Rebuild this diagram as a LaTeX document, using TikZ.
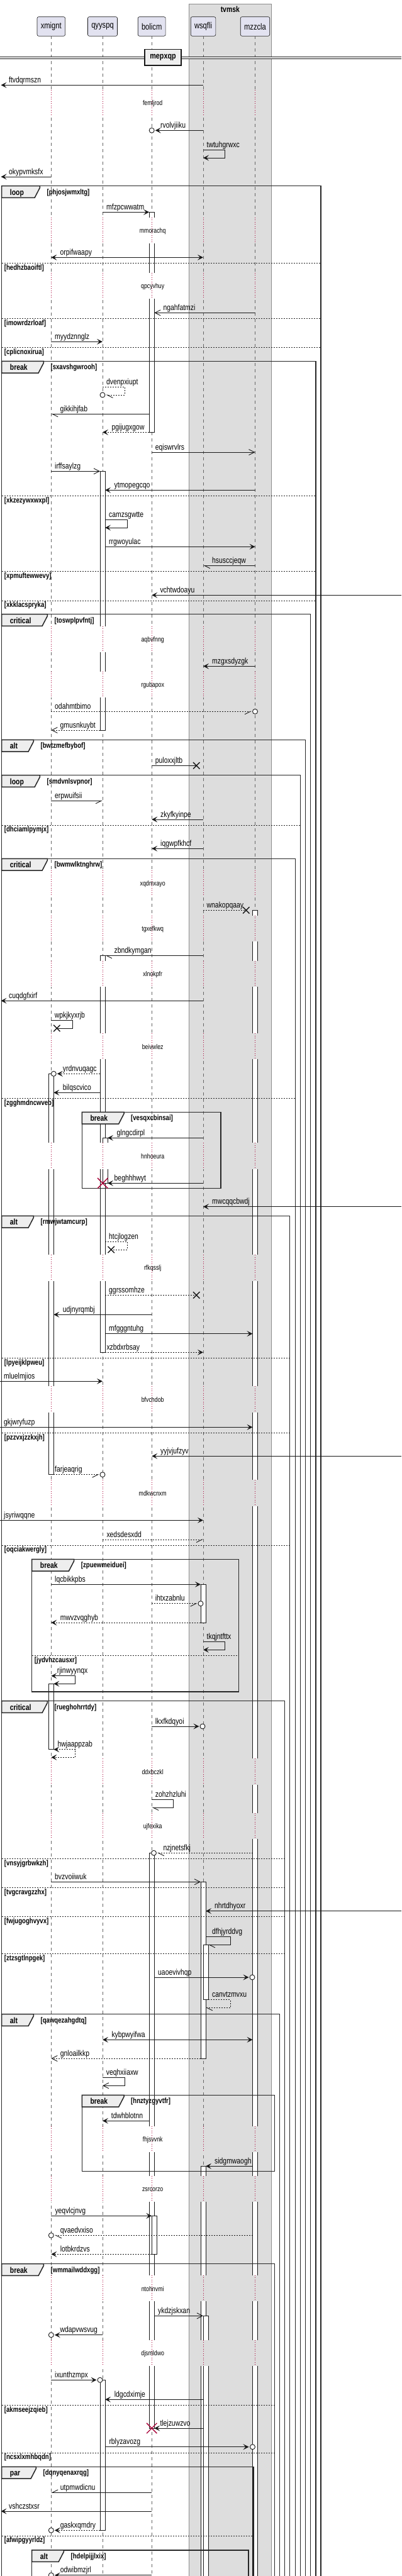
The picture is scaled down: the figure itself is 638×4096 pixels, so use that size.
\documentclass[tikz,border=0pt]{standalone}
\usepackage{fontspec}
\setmainfont{Liberation Sans}[FakeStretch=0.8]
\usetikzlibrary{arrows.meta, shapes.misc}
\definecolor{ink}{HTML}{181818}
\definecolor{partfill}{HTML}{E2E2F0}
\definecolor{boxgray}{HTML}{DDDDDD}
\definecolor{tabfill}{HTML}{EEEEEE}
\definecolor{delayred}{HTML}{A80036}
% lifeline positions
\newcommand*{\LXm}{81.3}
\newcommand*{\LQy}{163}
\newcommand*{\LBo}{241.2}
\newcommand*{\LWs}{323}
\newcommand*{\LMz}{405.5}
\tikzset{
  part/.style={draw=ink, fill=partfill, rounded corners=2.5pt, line width=0.6pt,
               minimum height=30.6pt, inner xsep=5.8pt, font=\fontsize{14}{16}\selectfont},
  life/.style={draw=black!60, line width=0.6pt, dash pattern=on 5pt off 5pt},
  dly/.style={draw=delayred, line width=0.8pt, dash pattern=on 1pt off 2.5pt},
  dlytxt/.style={font=\fontsize{11}{13}\selectfont, inner sep=0pt},
  frm/.style={draw=black!85, line width=1.5pt},
  sepl/.style={draw=black!85, line width=0.8pt, dash pattern=on 2pt off 2pt},
  kw/.style={font=\bfseries\fontsize{13}{15}\selectfont, anchor=base west, inner sep=0pt},
  cond/.style={font=\bfseries\fontsize{12}{14}\selectfont, anchor=base west, inner sep=0pt},
  act/.style={draw=ink, fill=white, line width=0.8pt},
  msg/.style={draw=ink, line width=0.9pt},
  dmsg/.style={msg, dash pattern=on 2pt off 2pt},
  tipfull/.style={-{Stealth[length=9pt,width=9pt,inset=4pt]}},
  tipboth/.style={{Stealth[length=9pt,width=9pt,inset=4pt]}-{Stealth[length=9pt,width=9pt,inset=4pt]}},
  tipopen/.style={-{Straight Barb[length=9pt,width=9pt]}},
  halfr/.style={-{Straight Barb[length=9pt,width=9pt,right]}},
  halfl/.style={-{Straight Barb[length=9pt,width=9pt,left]}},
  ring/.style={circle, draw=ink, fill=white, line width=0.9pt, minimum size=8pt, inner sep=0pt},
  lost/.style={cross out, draw=ink, line width=1.4pt, minimum size=9pt, inner sep=0pt},
  kill/.style={cross out, draw=delayred, line width=1.4pt, minimum size=15pt, inner sep=0pt},
  lbl/.style={font=\fontsize{13}{15}\selectfont, anchor=base west, inner sep=0pt},
}
% group frame: L, R, top, bottom, keyword, tab width, condition
\newcommand{\seqgroup}[7]{%
  \draw[frm] (#1,#3) rectangle (#2,#4);
  \draw[frm, fill=tabfill] (#1,#3) -- ++(#6,0) -- ++(0,2.7) -- ++(-8.3,16) -- ++({8.3-#6},0) -- cycle;
  \node[kw] (#7-kw) at ({#1+13},{#3+14.5}) {#5};
  \node[cond] (#7) at ({#1+#6+11},{#3+13.5}) {[#7]};
}
% else line: L, R, y, condition
\newcommand{\seqelse}[4]{%
  \draw[sepl] (#1,#3) -- (#2,#3);
  \node[cond] (#4) at ({#1+4},{#3+10.7}) {[#4]};
}
\begin{document}
\begin{tikzpicture}[x=1pt, y=-1pt]
  \useasboundingbox (0,0) rectangle (638,4096);
  % box and participants
  \draw[draw=black!45, fill=boxgray, line width=0.8pt] (300.3,6.3) rectangle (431.3,4120);
  \node[font=\bfseries\fontsize{13}{15}\selectfont, anchor=base, inner sep=0pt] (tvmsk) at (365.8,19.3) {tvmsk};
  \node[part] (xmignt) at (\LXm,42) {xmignt};
  \node[part] (qyyspq) at (\LQy,42) {qyyspq};
  \node[part] (bolicm) at (\LBo,42) {bolicm};
  \node[part] (wsqfli) at (\LWs,42) {wsqfli};
  \node[part] (mzzcla) at (\LMz,42) {mzzcla};
  \foreach \x in {\LXm,\LQy,\LBo,\LWs,\LMz}
    \draw[life] (\x,57.3) -- (\x,4110);
  % divider
  \draw[draw=ink, line width=0.9pt, double=white, double distance=1.8pt] (0,91.7) -- (638,91.7);
  \node[draw=ink, line width=1.5pt, fill=tabfill, minimum width=58pt, minimum height=25.7pt, inner sep=0pt,
        font=\bfseries\fontsize{13.5}{15}\selectfont] (mepxqp) at (259,91.2) {mepxqp};

  % activations
  \draw[act] (77.3,1707.3) rectangle (85.3,2344.7);
  \draw[act] (77.3,2677.3) rectangle (85.3,2781.7);
  \draw[act] (159,749.3) rectangle (167,1161);
  \draw[act] (159,1519.3) rectangle (167,2150.3);
  \draw[act] (163,1809.3) rectangle (171,1881.3);
  \draw[act] (159,3784.3) rectangle (167,4023.3);
  \draw[act] (237.2,337.3) rectangle (245.2,687.3);
  \draw[act] (237.2,2946.3) rectangle (245.2,3861);
  \draw[act] (241.2,3523.3) rectangle (249.2,3584.3);
  \draw[act] (319,2519.3) rectangle (327,2580);
  \draw[act] (319,2992.3) rectangle (327,3273);
  \draw[act] (323,3092.3) rectangle (331,3179.7);
  \draw[act] (319,3444.3) rectangle (327,4110);
  \draw[act] (323,3682.3) rectangle (331,4110);
  \draw[act] (401.5,1447.3) rectangle (409.5,4110);

  % groups
  \seqgroup{2.7}{510}{295.7}{4110}{loop}{60.7}{phjosjwmxltg}
  \seqelse{2.7}{510}{418.3}{hedhzbaoiftl}
  \seqelse{2.7}{510}{506.3}{imowrdzrloaf}
  \seqelse{2.7}{510}{552.3}{cplicnoxirua}
  \seqgroup{2.7}{502}{574.3}{4110}{break}{66.7}{sxavshgwrooh}
  \seqelse{2.7}{502}{788.3}{xkzezywxwxpl}
  \seqelse{2.7}{502}{908.3}{xpmuftewwevy}
  \seqelse{2.7}{502}{955}{xkklacspryka}
  \seqgroup{2.7}{493.7}{976.7}{4110}{critical}{72.7}{toswplpvfntj}
  \seqgroup{2.7}{485.7}{1176.3}{4110}{alt}{50.7}{bwtzmefbybof}
  \seqgroup{2.7}{477.7}{1232.7}{4110}{loop}{60.7}{smdvnlsvpnor}
  \seqelse{2.7}{477.7}{1312}{dhciamlpymjx}
  \seqgroup{2.7}{469.7}{1365.3}{4110}{critical}{72.7}{bwmwlktnghrw}
  \seqelse{2.7}{469.7}{1746.3}{zgghmdncwveb}
  \seqgroup{130.3}{351}{1768.3}{1889.7}{break}{66.7}{vesqxcbinsai}
  \seqgroup{2.7}{460.7}{1933.3}{4110}{alt}{50.7}{rmwjwtamcurp}
  \seqelse{2.7}{460.7}{2159.3}{lpyeijklpweu}
  \seqelse{2.7}{460.7}{2278.3}{pzzvxjzzkxjh}
  \seqelse{2.7}{460.7}{2457}{oqciakwergly}
  \seqgroup{50.7}{379.7}{2479.3}{2690}{break}{67}{zpuewmeiduei}
  \seqelse{50.7}{379.7}{2632.3}{jydvhzcausxr}
  \seqgroup{2.7}{452.7}{2704.7}{4110}{critical}{72.7}{rueghohrrtdy}
  \seqelse{2.7}{452.7}{2955.3}{vnsyjgrbwkzh}
  \seqelse{2.7}{452.7}{3001.3}{tvgcravgzzhx}
  \seqelse{2.7}{452.7}{3047.3}{fwjugoghvyvx}
  \seqelse{2.7}{452.7}{3106.3}{ztzsgtlnpgek}
  \seqgroup{2.7}{444.7}{3202.7}{4110}{alt}{50.7}{qawqezahgdtq}
  \seqgroup{130.3}{436.3}{3331.3}{3452.3}{break}{66.7}{hnztyzgyvtfr}
  \seqgroup{2.7}{436.3}{3599.7}{4110}{break}{66.7}{wmmailwddxgg}
  \seqelse{2.7}{436.3}{3824.3}{akmseejzqieb}
  \seqelse{2.7}{436.3}{3900}{ncsxlxmhbqdn}
  \seqgroup{2.7}{403}{3922.3}{4110}{par}{54.7}{dqnyqenaxrqg}
  \seqelse{2.7}{403}{4032}{afwipgyyrldz}
  \seqgroup{50.7}{395}{4054.7}{4110}{alt}{50.7}{hdelpijjlxix}

  % delays
  \foreach \c/\t in {165/femljrod, 367.3/mmorachq, 455.3/qpcyvhuy, 1017.3/aqbvfnng,
      1089.3/rgubapox, 1405.3/xqdmxayo, 1477.3/tgxefkwq, 1549.3/xlnokpfr, 1664.7/beivwlez,
      1839/hnhoeura, 2017/rfkqsslj, 2226/bfvchdob, 2375/mdkwcnxm, 2818/ddxbczkl,
      2904.3/ujfexika, 3402.3/fhjsvvnk, 3481.3/zsrcorzo, 3639.3/ntohnvmi, 3742.3/djsmldwo} {
    \foreach \x/\bg in {\LXm/white, \LQy/white, \LBo/white, \LWs/boxgray, \LMz/boxgray} {
      \fill[fill=\bg] (\x-5,\c-21.6) rectangle (\x+9.5,\c+19.7);
      \draw[dly] (\x,\c-21.6) -- (\x,\c+19.7);
    }
    \node[dlytxt] (\t) at (242.7,\c) {\t};
  }

  % messages
  \draw[msg, tipfull] (\LWs,135.3) -- (1.5,135.3);
  \node[lbl] (ftvdqrmszn) at (14,131.3) {ftvdqrmszn};
  \draw[msg, tipfull] (\LWs,207.3) -- (246.7,207.3);
  \node[ring] (rvolvjiiku-o) at (\LBo,207.3) {};
  \node[lbl] (rvolvjiiku) at (255,203.3) {rvolvjiiku};
  \draw[msg, tipfull] (\LWs,238.3) -- (357.7,238.3) -- (357.7,251) -- (\LWs,251);
  \node[lbl] (twtuhgrwxc) at (328.5,234.3) {twtuhgrwxc};
  \draw[msg, tipfull] (\LXm,281) -- (1.5,281);
  \node[lbl] (okypvmksfx) at (14,277) {okypvmksfx};
  \draw[msg, tipfull] (\LQy,337.3) -- (237.2,337.3);
  \node[lbl] (mfzpcwwatm) at (169,333.3) {mfzpcwwatm};
  \draw[msg, tipboth] (\LXm,409.3) -- (\LWs,409.3);
  \node[lbl] (orpifwaapy) at (95.5,405.3) {orpifwaapy};
  \draw[msg, tipopen] (\LMz,497.3) -- (245.2,497.3);
  \node[lbl] (ngahfatmzi) at (259.3,493.3) {ngahfatmzi};
  \draw[msg, tipfull] (\LXm,543.3) -- (\LQy,543.3);
  \node[lbl] (myydznnglz) at (87,539.3) {myydznnglz};
  \draw[dmsg, halfl] (\LQy,615.3) -- (198,615.3) -- (198,628) -- (168.5,628);
  \node[ring] (dvenpxiupt-o) at (\LQy,628) {};
  \node[lbl] (dvenpxiupt) at (169,611.3) {dvenpxiupt};
  \draw[msg, halfl] (237.2,658.3) -- (\LXm,658.3);
  \node[lbl] (gikkihjfab) at (95.5,654.3) {gikkihjfab};
  \draw[dmsg, tipfull] (237.2,687.3) -- (\LQy,687.3);
  \node[lbl] (pgijugxgow) at (177.3,683.3) {pgijugxgow};
  \draw[msg, tipopen] (\LBo,719) -- (\LMz,719);
  \node[lbl] (eqiswrvlrs) at (246.7,715) {eqiswrvlrs};
  \draw[msg, tipopen] (\LXm,749.3) -- (159,749.3);
  \node[lbl] (irffsaylzg) at (87,745.3) {irffsaylzg};
  \draw[msg, tipfull] (\LMz,779.3) -- (167,779.3);
  \node[lbl] (ytmopegcqo) at (181.5,775.3) {ytmopegcqo};
  \draw[msg, tipfull] (167,826.3) -- (202,826.3) -- (202,839) -- (167,839);
  \node[lbl] (camzsgwtte) at (173,822.3) {camzsgwtte};
  \draw[msg, tipfull] (167,869.3) -- (\LMz,869.3);
  \node[lbl] (rrgwoyulac) at (173,865.3) {rrgwoyulac};
  \draw[msg, halfl] (\LMz,899.3) -- (\LWs,899.3);
  \node[lbl] (hsusccjeqw) at (337,895.3) {hsusccjeqw};
  \draw[msg, tipfull] (638,946.3) -- (\LBo,946.3);
  \node[lbl] (vchtwdoayu) at (254.3,942.3) {vchtwdoayu};
  \draw[msg, tipfull] (\LMz,1059.3) -- (\LWs,1059.3);
  \node[lbl] (mzgxsdyzgk) at (337,1055.3) {mzgxsdyzgk};
  \draw[dmsg, halfr] (\LXm,1131.3) -- (400,1131.3);
  \node[ring] (odahmtbimo-o) at (\LMz,1131.3) {};
  \node[lbl] (odahmtbimo) at (87,1127.3) {odahmtbimo};
  \draw[dmsg, tipopen] (159,1161) -- (\LXm,1161);
  \node[lbl] (gmusnkuybt) at (95.5,1157) {gmusnkuybt};
  \draw[msg] (\LBo,1217.3) -- (312.3,1217.3);
  \node[lost] (puloxxjltb-x) at (312.3,1217.3) {};
  \node[lbl] (puloxxjltb) at (246.7,1213.3) {puloxxjltb};
  \draw[msg, halfr] (\LXm,1273.3) -- (\LQy,1273.3);
  \node[lbl] (erpwuifsii) at (87,1269.3) {erpwuifsii};
  \draw[msg, tipfull] (\LWs,1303) -- (\LBo,1303);
  \node[lbl] (zkyfkyinpe) at (255,1299) {zkyfkyinpe};
  \draw[msg, tipfull] (\LWs,1349.3) -- (\LBo,1349.3);
  \node[lbl] (iqgwpfkhcf) at (255,1345.3) {iqgwpfkhcf};
  \draw[dmsg] (\LWs,1447.3) -- (391.3,1447.3);
  \node[lost] (wnakopqaay-x) at (391.3,1447.3) {};
  \node[lbl] (wnakopqaay) at (328.5,1443.3) {wnakopqaay};
  \draw[msg, halfl] (\LWs,1519.3) -- (167,1519.3);
  \node[lbl] (zbndkymgan) at (181.5,1515.3) {zbndkymgan};
  \draw[msg, tipfull] (\LWs,1591.3) -- (1.5,1591.3);
  \node[lbl] (cuqdgfxirf) at (14,1587.3) {cuqdgfxirf};
  \draw[msg] (\LXm,1622.3) -- (115.7,1622.3) -- (115.7,1635) -- (90.3,1635);
  \node[lost] (wpkjkyxrjb-x) at (90.3,1635) {};
  \node[lbl] (wpkjkyxrjb) at (86.7,1618.3) {wpkjkyxrjb};
  \draw[dmsg, tipfull] (159,1707.3) -- (90.8,1707.3);
  \node[ring] (yrdnvuqagc-o) at (85.3,1707.3) {};
  \node[lbl] (yrdnvuqagc) at (99.7,1703.3) {yrdnvuqagc};
  \draw[msg, tipfull] (159,1737.3) -- (85.3,1737.3);
  \node[lbl] (bilqscvico) at (99.7,1733.3) {bilqscvico};
  \draw[msg, tipfull] (\LWs,1809.3) -- (171,1809.3);
  \node[lbl] (glngcdirpl) at (185.5,1805.3) {glngcdirpl};
  \draw[msg, tipfull] (\LWs,1881.3) -- (171,1881.3);
  \node[kill] (beghhhwyt-x) at (163.3,1881.3) {};
  \node[lbl] (beghhhwyt) at (181.5,1877.3) {beghhhwyt};
  \draw[msg, tipfull] (638,1918.7) -- (\LWs,1918.7);
  \node[lbl] (mwcqqcbwdj) at (337,1914.7) {mwcqqcbwdj};
  \draw[dmsg] (167,1974.3) -- (202,1974.3) -- (202,1987) -- (176.7,1987);
  \node[lost] (htcjlogzen-x) at (176.7,1987) {};
  \node[lbl] (htcjlogzen) at (173,1970.3) {htcjlogzen};
  \draw[dmsg] (167,2059.3) -- (312.3,2059.3);
  \node[lost] (ggrssomhze-x) at (312.3,2059.3) {};
  \node[lbl] (ggrssomhze) at (173,2055.3) {ggrssomhze};
  \draw[msg, tipfull] (\LBo,2090.3) -- (85.3,2090.3);
  \node[lbl] (udjnyrqmbj) at (99.7,2086.3) {udjnyrqmbj};
  \draw[msg, tipfull] (167,2120.7) -- (401.5,2120.7);
  \node[lbl] (mfgggntuhg) at (173,2116.7) {mfgggntuhg};
  \draw[dmsg, tipfull] (167,2150.3) -- (\LWs,2150.3);
  \node[lbl] (xzbdxrbsay) at (169.3,2146.3) {xzbdxrbsay};
  \draw[msg, tipfull] (0,2196.3) -- (\LQy,2196.3);
  \node[lbl] (mluelmjios) at (6,2192.3) {mluelmjios};
  \draw[msg, tipfull] (0,2269.3) -- (401.5,2269.3);
  \node[lbl] (gkjwryfuzp) at (6,2265.3) {gkjwryfuzp};
  \draw[msg, tipfull] (638,2315.3) -- (\LBo,2315.3);
  \node[lbl] (yyjvjufzyv) at (255,2311.3) {yyjvjufzyv};
  \draw[dmsg, halfr] (85.3,2344.7) -- (157.5,2344.7);
  \node[ring] (farjeaqrig-o) at (\LQy,2344.7) {};
  \node[lbl] (farjeaqrig) at (87,2340.7) {farjeaqrig};
  \draw[msg, tipfull] (0,2417.3) -- (\LWs,2417.3);
  \node[lbl] (jsyriwqqne) at (6,2413.3) {jsyriwqqne};
  \draw[dmsg, halfr] (\LQy,2448) -- (\LWs,2448);
  \node[lbl] (xedsdesxdd) at (169.3,2444) {xedsdesxdd};
  \draw[msg, tipfull] (\LXm,2519.3) -- (319,2519.3);
  \node[lbl] (lqcbikkpbs) at (87,2515.3) {lqcbikkpbs};
  \draw[dmsg, halfr] (\LBo,2549.7) -- (313.5,2549.7);
  \node[ring] (ihtxzabnlu-o) at (319,2549.7) {};
  \node[lbl] (ihtxzabnlu) at (246.7,2545.7) {ihtxzabnlu};
  \draw[dmsg, tipfull] (319,2580) -- (\LXm,2580);
  \node[lbl] (mwvzvqghyb) at (95.7,2576) {mwvzvqghyb};
  \draw[msg, tipfull] (\LWs,2610.7) -- (357.7,2610.7) -- (357.7,2623.3) -- (\LWs,2623.3);
  \node[lbl] (tkqjntfttx) at (328.5,2606.7) {tkqjntfttx};
  \draw[msg, tipboth] (\LXm,2664.7) -- (119.7,2664.7) -- (119.7,2677.3) -- (85.3,2677.3);
  \node[lbl] (rjinwyynqx) at (90.7,2660.7) {rjinwyynqx};
  \draw[msg, tipfull] (\LBo,2745) -- (316.5,2745);
  \node[ring] (lkxfkdqyoi-o) at (322,2745) {};
  \node[lbl] (lkxfkdqyoi) at (246.7,2741) {lkxfkdqyoi};
  \draw[dmsg, tipboth] (85.3,2781.7) -- (119.7,2781.7) -- (119.7,2794.3) -- (\LXm,2794.3);
  \node[lbl] (hwjaappzab) at (91.3,2777.7) {hwjaappzab};
  \draw[msg, halfl] (\LBo,2861.3) -- (275.7,2861.3) -- (275.7,2874) -- (\LBo,2874);
  \node[lbl] (zohzhzluhi) at (246.7,2857.3) {zohzhzluhi};
  \draw[dmsg, halfl] (401.5,2946.3) -- (250,2946.3);
  \node[ring] (nzjnetsfkj-o) at (244.5,2946.3) {};
  \node[lbl] (nzjnetsfkj) at (259.3,2942.3) {nzjnetsfkj};
  \draw[msg, tipopen] (\LXm,2992.3) -- (319,2992.3);
  \node[lbl] (bvzvoiiwuk) at (87,2988.3) {bvzvoiiwuk};
  \draw[msg, tipfull] (638,3038.7) -- (327,3038.7);
  \node[lbl] (nhrtdhyoxr) at (341,3034.7) {nhrtdhyoxr};
  \draw[msg, halfl] (327,3079.7) -- (366,3079.7) -- (366,3092.3) -- (331,3092.3);
  \node[lbl] (dfhjyrddvg) at (337,3075.7) {dfhjyrddvg};
  \draw[msg, tipfull] (245.2,3144) -- (395.5,3144);
  \node[ring] (uaoevivhqp-o) at (401,3144) {};
  \node[lbl] (uaoevivhqp) at (251,3140) {uaoevivhqp};
  \draw[dmsg, halfl] (331,3179.7) -- (366,3179.7) -- (366,3192.3) -- (327,3192.3);
  \node[lbl] (canvtzmvxu) at (337,3175.7) {canvtzmvxu};
  \draw[msg, tipboth] (\LQy,3243.3) -- (401.5,3243.3);
  \node[lbl] (kybpwyifwa) at (177.3,3239.3) {kybpwyifwa};
  \draw[dmsg, tipopen] (319,3273) -- (\LXm,3273);
  \node[lbl] (gnloailkkp) at (95.7,3269) {gnloailkkp};
  \draw[msg, tipopen] (\LQy,3303.7) -- (198,3303.7) -- (198,3316.3) -- (\LQy,3316.3);
  \node[lbl] (veqhxiiaxw) at (168.7,3299.7) {veqhxiiaxw};
  \draw[msg, tipfull] (237.2,3372.3) -- (\LQy,3372.3);
  \node[lbl] (tdwhblotnn) at (176.7,3368.3) {tdwhblotnn};
  \draw[msg, tipfull] (401.5,3444.3) -- (327,3444.3);
  \node[lbl] (sidgmwaogh) at (341,3440.3) {sidgmwaogh};
  \draw[msg, tipfull] (\LXm,3523.3) -- (\LBo,3523.3);
  \node[lbl] (yeqvlcjnvg) at (87.3,3519.3) {yeqvlcjnvg};
  \draw[dmsg, halfl] (401.5,3554.3) -- (86.8,3554.3);
  \node[ring] (qvaedvxiso-o) at (\LXm,3554.3) {};
  \node[lbl] (qvaedvxiso) at (95.7,3550.3) {qvaedvxiso};
  \draw[dmsg, tipfull] (\LBo,3584.3) -- (\LXm,3584.3);
  \node[lbl] (lotbkrdzvs) at (95.7,3580.3) {lotbkrdzvs};
  \draw[msg, tipopen] (245.2,3682.3) -- (\LWs,3682.3);
  \node[lbl] (ykdzjskxan) at (251,3678.3) {ykdzjskxan};
  \draw[msg, tipfull] (\LQy,3712.7) -- (86.8,3712.7);
  \node[ring] (wdapvwsvug-o) at (\LXm,3712.7) {};
  \node[lbl] (wdapvwsvug) at (95.3,3708.7) {wdapvwsvug};
  \draw[msg, tipfull] (\LXm,3784.3) -- (153.5,3784.3);
  \node[ring] (ixunthzmpx-o) at (159,3784.3) {};
  \node[lbl] (ixunthzmpx) at (87,3780.3) {ixunthzmpx};
  \draw[msg, tipfull] (\LWs,3815.3) -- (167,3815.3);
  \node[lbl] (ldgcdximje) at (181.7,3811.3) {ldgcdximje};
  \draw[msg, tipfull] (\LWs,3861) -- (245.2,3861);
  \node[kill] (tlejzuwzvo-x) at (\LBo,3861) {};
  \node[lbl] (tlejzuwzvo) at (254.3,3857) {tlejzuwzvo};
  \draw[msg, tipfull] (167,3890.7) -- (395.5,3890.7);
  \node[ring] (rblyzavozg-o) at (401.5,3890.7) {};
  \node[lbl] (rblyzavozg) at (173.3,3886.7) {rblyzavozg};
  \draw[msg, halfr] (\LBo,3963.3) -- (\LXm,3963.3);
  \node[lbl] (utpmwdicnu) at (95.7,3959.3) {utpmwdicnu};
  \draw[msg, tipfull] (\LBo,3993) -- (1.5,3993);
  \node[lbl] (vshczstxsr) at (14,3989) {vshczstxsr};
  \draw[dmsg, tipfull] (159,4023.3) -- (86.8,4023.3);
  \node[ring] (gaskxqmdry-o) at (\LXm,4023.3) {};
  \node[lbl] (gaskxqmdry) at (95.7,4019.3) {gaskxqmdry};
  \draw[msg, tipfull] (\LBo,4094.7) -- (86.8,4094.7);
  \node[ring] (odwibmzjrl-o) at (\LXm,4094.7) {};
  \node[lbl] (odwibmzjrl) at (95.7,4090.7) {odwibmzjrl};
\end{tikzpicture}
\end{document}
